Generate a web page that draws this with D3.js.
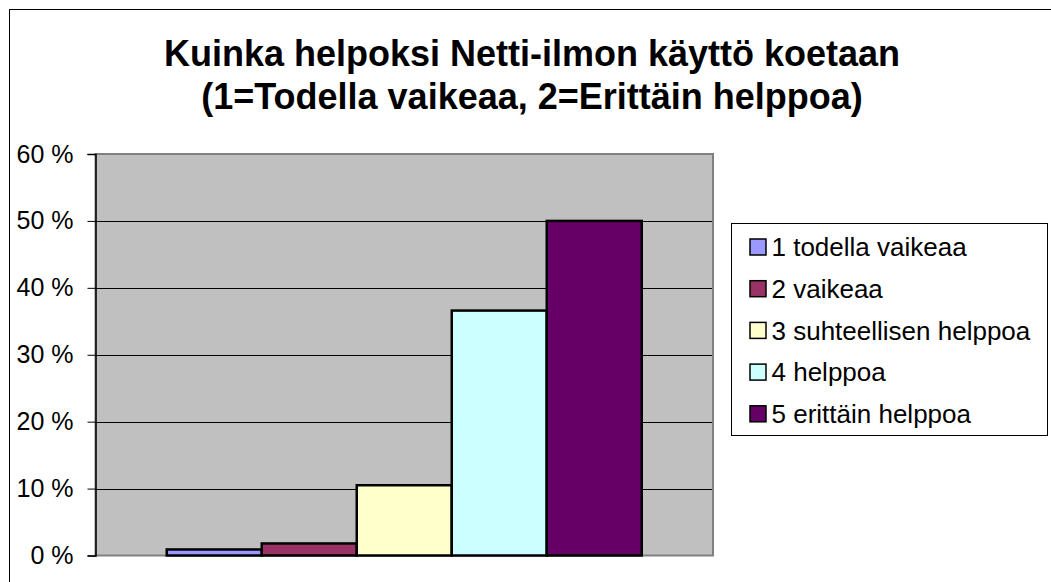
<!DOCTYPE html>
<html>
<head>
    <meta charset="utf-8">
    <title>Kuinka helpoksi Netti-ilmon käyttö koetaan</title>
    <script src="https://d3js.org/d3.v7.min.js"></script>
    <style>
        body { margin: 0; background: #fff; }
        svg { display: block; font-family: "Liberation Sans", Arial, sans-serif; }
    </style>
</head>
<body>
    <svg id="chart" width="1051" height="582"></svg>
    <script>
        // data
        const categories = [""];
        const seriesNames = ["1 todella vaikeaa", "2 vaikeaa", "3 suhteellisen helppoa", "4 helppoa", "5 erittäin helppoa"];
        const seriesValues = [0.009, 0.018, 0.105, 0.366, 0.500];
        const seriesColors = ["#9999FF", "#993366", "#FFFFCC", "#CCFFFF", "#660066"];
        const yTicks = [0, 0.1, 0.2, 0.3, 0.4, 0.5, 0.6];
        const titleLines = ["Kuinka helpoksi Netti-ilmon käyttö koetaan", "(1=Todella vaikeaa, 2=Erittäin helppoa)"];

        const width = 1051, height = 582;
        const plot = { left: 95.5, right: 713, top: 154, bottom: 555.5 };
        const svg = d3.select("#chart");

        // outer chart border (right/bottom run off the picture)
        svg.append("rect").attr("x", 9.5).attr("y", 9.5)
            .attr("width", width + 20).attr("height", height + 20)
            .attr("fill", "#fff").attr("stroke", "#000").attr("stroke-width", 1);

        // title
        svg.append("g").selectAll("text").data(titleLines).enter().append("text")
            .attr("x", 532).attr("y", (d, i) => 66 + i * 43)
            .attr("text-anchor", "middle").attr("font-weight", "bold")
            .attr("font-size", "36px").attr("fill", "#000")
            .text(d => d);

        const y = d3.scaleLinear().domain([0, 0.6]).range([plot.bottom, plot.top]);
        const x0 = d3.scaleBand().domain(categories).range([plot.left, plot.right])
            .paddingInner(0).paddingOuter(0.15);
        const x1 = d3.scaleBand().domain(seriesNames).range([0, x0.bandwidth()]).padding(0);

        // plot area
        svg.append("rect").attr("x", plot.left).attr("y", plot.top)
            .attr("width", plot.right - plot.left).attr("height", plot.bottom - plot.top)
            .attr("fill", "#C0C0C0").attr("stroke", "#808080").attr("stroke-width", 2);

        // gridlines
        svg.append("g").selectAll("line").data(yTicks.filter(d => d > 0 && d < 0.6)).enter().append("line")
            .attr("x1", plot.left).attr("x2", plot.right - 1)
            .attr("y1", d => Math.round(y(d)) + 0.5).attr("y2", d => Math.round(y(d)) + 0.5)
            .attr("stroke", "#000").attr("stroke-width", 1);

        // bars
        svg.append("g").attr("transform", `translate(${x0("")},0)`)
            .selectAll("rect").data(seriesValues).enter().append("rect")
            .attr("x", (d, i) => x1(seriesNames[i]))
            .attr("y", d => y(d))
            .attr("width", x1.bandwidth())
            .attr("height", d => y(0) - y(d))
            .attr("fill", (d, i) => seriesColors[i])
            .attr("stroke", "#000").attr("stroke-width", 2.5);

        // y axis
        const yAxis = d3.axisLeft(y).tickValues(yTicks)
            .tickFormat(d => Math.round(d * 100) + " %")
            .tickSize(8).tickPadding(14);
        const ya = svg.append("g").attr("transform", `translate(${plot.left},0)`).call(yAxis);
        ya.select(".domain").attr("stroke", "#000").attr("stroke-width", 1.5);
        ya.selectAll(".tick line").attr("stroke", "#000");
        ya.selectAll(".tick text").attr("font-size", "25px").attr("fill", "#000")
            .attr("font-family", "'Liberation Sans', Arial, sans-serif");

        // legend
        const legend = svg.append("g");
        legend.append("rect").attr("x", 731.5).attr("y", 223.5).attr("width", 316).attr("height", 212)
            .attr("fill", "#fff").attr("stroke", "#000").attr("stroke-width", 1);
        const items = legend.selectAll("g.item").data(seriesNames).enter().append("g")
            .attr("class", "item")
            .attr("transform", (d, i) => `translate(750,${247 + i * 41.7})`);
        items.append("rect").attr("x", 0).attr("y", -8).attr("width", 16).attr("height", 16)
            .attr("fill", (d, i) => seriesColors[i]).attr("stroke", "#000").attr("stroke-width", 1.5);
        items.append("text").attr("x", 21.5).attr("y", 0).attr("dy", "0.36em")
            .attr("font-size", "26px").attr("fill", "#000").text(d => d);
    </script>
</body>
</html>
